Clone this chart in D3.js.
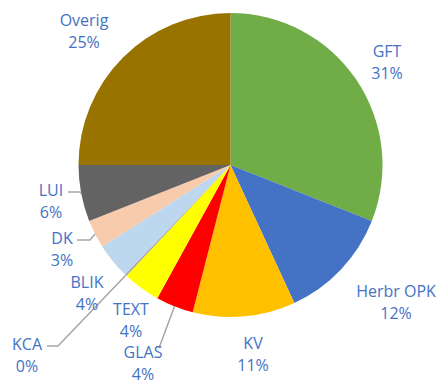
<!DOCTYPE html>
<html>
<head>
<meta charset="utf-8">
<script src="https://cdn.jsdelivr.net/npm/d3@7"></script>
<style>
  html, body { margin: 0; padding: 0; background: #fff; }
  svg { display: block; }
</style>
</head>
<body>
<svg id="chart" width="436" height="385"></svg>
<script>
// Waste composition (share of total, %)
const categories = ["GFT", "Herbr OPK", "KV", "GLAS", "TEXT", "KCA", "BLIK", "DK", "LUI", "Overig"];
const shares     = [31.0, 12.1, 10.9, 4.0, 4.0, 0.2, 3.8, 3.0, 6.0, 25.0];
const colours    = ["#70AD47", "#4472C4", "#FFC000", "#FF0000", "#FFFF00", "#A5A5A5", "#BDD7EE", "#F8CBAD", "#636363", "#997300"];

const W = 436, H = 385;
const cx = 230.5, cy = 165, R = 152;

const svg = d3.select("#chart");
const g = svg.append("g").attr("transform", `translate(${cx},${cy})`);

const data = categories.map((c, i) => ({ name: c, value: shares[i], colour: colours[i] }));
const total = d3.sum(shares);

const pie = d3.pie().value(d => d.value).sort(null);
const arcs = pie(data);
const arc = d3.arc().innerRadius(0).outerRadius(R);

g.selectAll("path.slice")
  .data(arcs)
  .join("path")
  .attr("class", "slice")
  .attr("d", arc)
  .attr("fill", d => d.data.colour);

// Label placement (text centre of the two-line block) and optional leader
const labelLayout = {
  "GFT":       { x: 387, y: 59 },
  "Herbr OPK": { x: 396, y: 299 },
  "KV":        { x: 253, y: 351 },
  "GLAS":      { x: 143, y: 360, leader: "straight", end: [159, 348] },
  "TEXT":      { x: 131, y: 317 },
  "KCA":       { x: 27,  y: 352, leader: "elbow", elbowX: 58, endX: 47, ly: 346 },
  "BLIK":      { x: 87,  y: 290 },
  "DK":        { x: 62,  y: 246, leader: "elbow", elbowX: 90, endX: 77, ly: 240 },
  "LUI":       { x: 51,  y: 198, leader: "elbow", elbowX: 80, endX: 68, ly: 192 },
  "Overig":    { x: 84,  y: 28 }
};

const edgePoint = d => {
  const a = (d.startAngle + d.endAngle) / 2;
  return [cx + R * Math.sin(a), cy - R * Math.cos(a)];
};

const lines = svg.append("g");
arcs.forEach(d => {
  const L = labelLayout[d.data.name];
  if (!L.leader) return;
  const p = edgePoint(d);
  let pts;
  if (L.leader === "elbow") pts = [p, [L.elbowX, L.ly], [L.endX, L.ly]];
  else pts = [p, L.end];
  lines.append("path")
    .attr("d", d3.line()(pts))
    .attr("fill", "none")
    .attr("stroke", "#A6A6A6")
    .attr("stroke-width", 1.5);
});

const labels = svg.append("g")
  .attr("font-family", "'Open Sans', 'Noto Sans', sans-serif")
  .attr("font-size", 16)
  .attr("fill", "#4472C4")
  .attr("text-anchor", "middle");

arcs.forEach(d => {
  const L = labelLayout[d.data.name];
  const pct = Math.round(d.data.value / total * 100) + "%";
  const t = labels.append("text").attr("x", L.x).attr("y", L.y);
  t.append("tspan").attr("x", L.x).attr("dy", "-0.15em").text(d.data.name);
  t.append("tspan").attr("x", L.x).attr("dy", "1.4em").text(pct);
});
</script>
</body>
</html>
